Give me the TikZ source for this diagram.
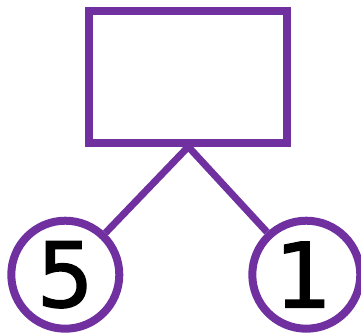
\documentclass[tikz,border=0pt]{standalone}
\usepackage{fontspec}
\setmainfont{DejaVu Sans}
\newfontfamily\digitfont{DejaVu Sans}[FakeBold=1.5]
\definecolor{bondpurple}{HTML}{7030A0}
\begin{document}
\begin{tikzpicture}[x=1pt,y=-1pt,
  bond/.style={draw=bondpurple,line width=8pt},
  wholebox/.style={bond,rectangle,minimum width=198pt,minimum height=132pt,inner sep=0pt},
  partcircle/.style={bond,circle,minimum size=108pt,inner sep=0pt,
    font=\digitfont\fontsize{90}{90}\selectfont,text=black},
  link/.style={draw=bondpurple,line width=7pt}]
\useasboundingbox (0,0) rectangle (361,333);
\clip (0,0) rectangle (361,333);
\node[wholebox] (whole) at (188.3,76.7) {};
\node[partcircle] (left) at (65.3,274.7) {\raisebox{-5pt}{5}};
\node[partcircle] (right) at (306.3,274.7) {\raisebox{-5pt}{\hspace*{-6pt}1}};
\draw[link] (whole.south) -- (left);
\draw[link] (whole.south) -- (right);
\end{tikzpicture}
\end{document}
